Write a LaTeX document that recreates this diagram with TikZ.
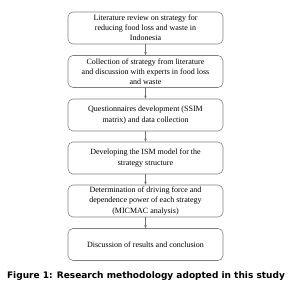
\documentclass[tikz,border=0pt]{standalone}
\usepackage{fontspec}
\setmainfont{Liberation Serif}
\newfontfamily\capfont{DejaVu Sans}
\usetikzlibrary{arrows.meta}
\begin{document}
\begin{tikzpicture}[x=1pt,y=-1pt,
  stepbox/.style={draw=black!50, line width=0.6pt, rounded corners=5pt,
    minimum width=155pt, minimum height=32pt, align=center, inner sep=1pt,
    font=\fontsize{8}{10.2}\selectfont, text=black},
  conn/.style={draw=black!55, line width=0.5pt, -{Stealth[length=3pt,width=2.6pt]}}]
\useasboundingbox (0,0) rectangle (293,294);
\node[stepbox] (s1) at (145.5,28) {Literature review on strategy for\\reducing food loss and waste in\\Indonesia};
\node[stepbox] (s2) at (145.5,71.5) {Collection of strategy from literature\\and discussion with experts in food loss\\and waste};
\node[stepbox] (s3) at (145.5,115) {Questionnaires development (SSIM\\matrix) and data collection};
\node[stepbox] (s4) at (145.5,158) {Developing the ISM model for the\\strategy structure};
\node[stepbox] (s5) at (145.5,201) {Determination of driving force and\\dependence power of each strategy\\(MICMAC analysis)};
\node[stepbox] (s6) at (145.5,244.5) {Discussion of results and conclusion};
\draw[conn] (s1) -- (s2);
\draw[conn] (s2) -- (s3);
\draw[conn] (s3) -- (s4);
\draw[conn] (s4) -- (s5);
\draw[conn] (s5) -- (s6);
\node[font=\capfont\bfseries\fontsize{9}{11}\selectfont] (cap) at (146,276.5) {Figure 1: Research methodology adopted in this study};
\end{tikzpicture}
\end{document}
